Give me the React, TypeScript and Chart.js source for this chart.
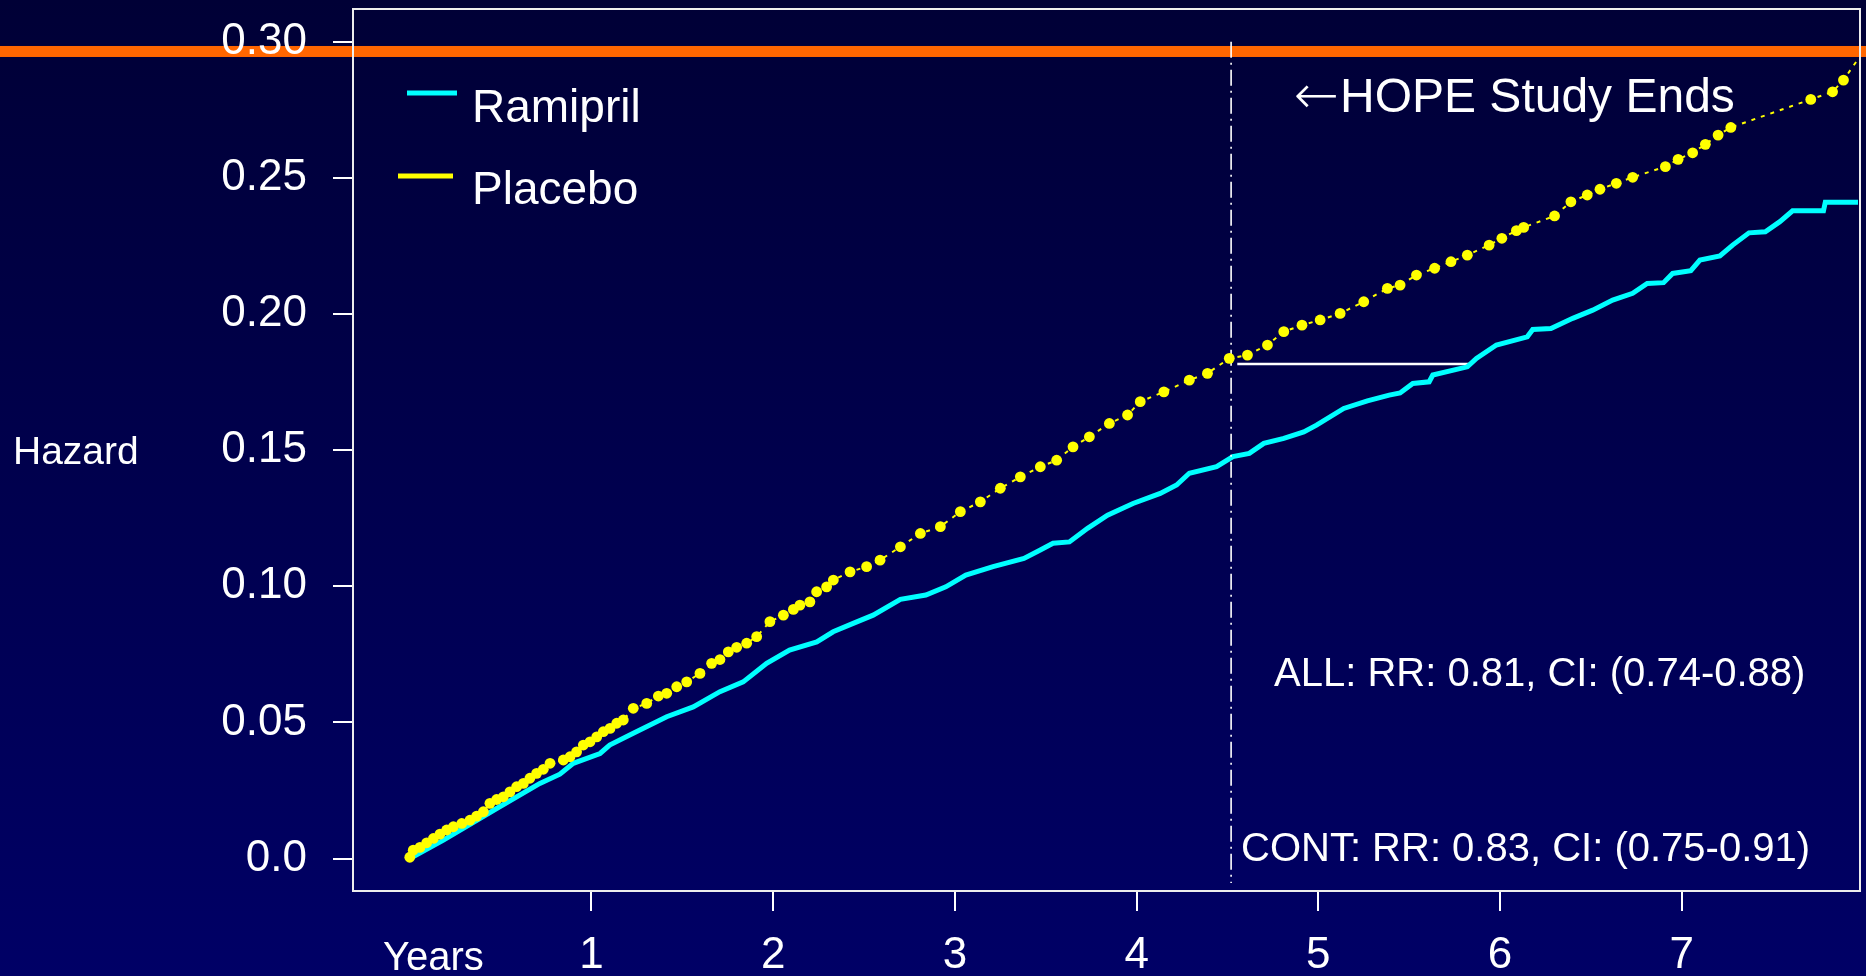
import React, { useEffect, useRef } from 'react';
import { Chart, registerables } from 'chart.js';

Chart.register(...registerables);

const FONT = '"Liberation Sans", Arial, Helvetica, sans-serif';

// Axis ticks
const xTickValues = [1, 2, 3, 4, 5, 6, 7];
const xTickLabels = ['1', '2', '3', '4', '5', '6', '7'];
const yTickValues = [0, 0.05, 0.1, 0.15, 0.2, 0.25, 0.3];
const yTickLabels = ['0.0', '0.05', '0.10', '0.15', '0.20', '0.25', '0.30'];

// Placebo cumulative hazard (years, hazard)
const placeboYears = [
  0, 0.019, 0.056, 0.093, 0.13, 0.166, 0.203, 0.24, 0.286, 0.331, 0.368, 0.405, 0.441, 0.478, 0.515,
  0.551, 0.588, 0.625, 0.661, 0.698, 0.735, 0.772, 0.845, 0.882, 0.918, 0.955, 0.992, 1.029, 1.065,
  1.102, 1.139, 1.175, 1.23, 1.304, 1.368, 1.414, 1.469, 1.524, 1.597, 1.661, 1.707, 1.753, 1.799,
  1.854, 1.909, 1.982, 2.056, 2.111, 2.147, 2.202, 2.239, 2.294, 2.331, 2.423, 2.514, 2.588,
  2.7, 2.81, 2.92, 3.03, 3.14, 3.25, 3.36, 3.47, 3.56, 3.65, 3.74, 3.85, 3.95, 4.02, 4.15, 4.29,
  4.39, 4.51, 4.61, 4.72, 4.81, 4.91, 5.01, 5.12, 5.25, 5.38,
  5.45, 5.54, 5.64, 5.73, 5.82, 5.94, 6.01, 6.09, 6.13, 6.3, 6.39, 6.48, 6.55, 6.64, 6.73, 6.91,
  6.98, 7.06, 7.13, 7.2, 7.27, 7.71, 7.83, 7.89, 7.96,
];
const placeboHazard = [
  0.0005, 0.0031, 0.0041, 0.0058, 0.0074, 0.009, 0.0105, 0.0117, 0.0129, 0.0141, 0.0156, 0.0172,
  0.0203, 0.0217, 0.0227, 0.0245, 0.0264, 0.0276, 0.0295, 0.0313, 0.0328, 0.035, 0.0362, 0.0374,
  0.0392, 0.0417, 0.0429, 0.0447, 0.0466, 0.0478, 0.0497, 0.0509, 0.0552, 0.057, 0.0597, 0.0607,
  0.0631, 0.0649, 0.068, 0.0717, 0.0731, 0.0759, 0.0776, 0.0791, 0.0815, 0.087, 0.0894, 0.0915,
  0.0931, 0.0943, 0.098, 0.0998, 0.1023, 0.1053, 0.1072, 0.1096,
  0.1145, 0.1194, 0.1219, 0.1274, 0.131, 0.136, 0.1402, 0.1439, 0.1463, 0.1512, 0.1549, 0.1598,
  0.1629, 0.1678, 0.1714, 0.1757, 0.1782, 0.1837, 0.1849, 0.1886, 0.1935, 0.1959, 0.1978, 0.2002,
  0.2045, 0.2094,
  0.2106, 0.2143, 0.2168, 0.2192, 0.2216, 0.2253, 0.2278, 0.2306, 0.2318, 0.236, 0.2412, 0.2437,
  0.2458, 0.248, 0.2502, 0.2541, 0.2568, 0.2592, 0.2623, 0.2657, 0.2685, 0.2788, 0.2816, 0.2859,
  0.2926,
];

// Ramipril cumulative hazard (years, hazard)
const ramiprilYears = [
  0, 0.185, 0.478, 0.716, 0.826, 0.9, 1.047, 1.1, 1.23, 1.414, 1.56, 1.707, 1.835, 1.964, 2.09,
  2.24, 2.33, 2.44, 2.55, 2.7, 2.84, 2.95, 3.06, 3.21, 3.38, 3.47, 3.54, 3.63, 3.73, 3.84, 3.98,
  4.13, 4.22, 4.29, 4.44, 4.53, 4.62, 4.7, 4.81, 4.92, 4.99, 5.14, 5.27, 5.39, 5.45, 5.52, 5.61,
  5.63, 5.82, 5.87, 5.98, 6.15, 6.18, 6.28, 6.4, 6.51, 6.62, 6.73, 6.81, 6.9, 6.95, 7.05, 7.1,
  7.21, 7.28, 7.37, 7.46, 7.54, 7.61, 7.78, 7.79, 7.97,
];
const ramiprilHazard = [
  0, 0.0068, 0.0184, 0.0276, 0.031, 0.035, 0.0386, 0.0417, 0.046, 0.0521, 0.0557, 0.0613, 0.0649,
  0.0717, 0.0766, 0.0796, 0.0833, 0.0864, 0.0894, 0.0952, 0.0968, 0.0998, 0.1041, 0.1072, 0.1102,
  0.1133, 0.1158, 0.1163, 0.1213, 0.1261, 0.1304, 0.1341, 0.1372, 0.1415, 0.1439, 0.1476, 0.1488,
  0.1525, 0.1543, 0.1567, 0.1592, 0.1653, 0.1681, 0.1702, 0.171, 0.1745, 0.1751, 0.1776, 0.1806,
  0.1837, 0.1886, 0.1916, 0.1943, 0.1947, 0.1984, 0.2014, 0.2051, 0.2076, 0.2112, 0.2115, 0.2149,
  0.2159, 0.2198, 0.2213, 0.2253, 0.2298, 0.2302, 0.2339, 0.2379, 0.2379, 0.241, 0.241,
];

// Reference lines
const studyEndYears = [4.52, 4.52];
const studyEndHazard = [0.3, -0.009];
const delayYears = [4.554, 5.844];
const delayHazard = [0.1816, 0.1816];
const orangeLevel = 0.2964;

const seriesNames = ['Ramipril', 'Placebo'];
const annotationTexts = ['HOPE Study Ends', 'ALL: RR: 0.81, CI: (0.74-0.88)', 'CONT: RR: 0.83, CI: (0.75-0.91)'];
const axisTitles = ['Hazard', 'Years'];

const toPoints = (xs: number[], ys: number[]) => xs.map((x, i) => ({ x, y: ys[i] }));

export default function App() {
  const ref = useRef<HTMLCanvasElement>(null);

  useEffect(() => {
    document.body.style.margin = '0';
    document.body.style.background = '#00004c';
    document.body.style.overflow = 'hidden';
    const canvas = ref.current!;

    const decoPlugin = {
      id: 'deco',
      beforeDraw(chart: any) {
        const { ctx, width, height } = chart;
        ctx.save();
        const g = ctx.createLinearGradient(0, 0, 0, height);
        g.addColorStop(0, '#000036');
        g.addColorStop(1, '#000066');
        ctx.fillStyle = g;
        ctx.fillRect(0, 0, width, height);
        const yy = chart.scales.y.getPixelForValue(orangeLevel);
        ctx.fillStyle = '#FF6600';
        ctx.fillRect(0, yy - 5.5, width, 11);
        ctx.restore();
      },
      beforeDatasetsDraw(chart: any) {
        const { ctx, chartArea: a } = chart;
        ctx.save();
        ctx.strokeStyle = '#EDEDED';
        ctx.lineWidth = 2;
        ctx.strokeRect(a.left, a.top, a.right - a.left, a.bottom - a.top);
        ctx.restore();
      },
      afterDraw(chart: any) {
        const { ctx } = chart;
        ctx.save();
        ctx.fillStyle = '#FFFFFF';
        ctx.textBaseline = 'alphabetic';
        ctx.textAlign = 'left';

        // legend
        ctx.lineCap = 'butt';
        ctx.strokeStyle = '#00FFFF';
        ctx.lineWidth = 5;
        ctx.beginPath();
        ctx.moveTo(407, 93);
        ctx.lineTo(457, 93);
        ctx.stroke();
        ctx.strokeStyle = '#FFFF00';
        ctx.lineWidth = 5;
        ctx.beginPath();
        ctx.moveTo(398, 176);
        ctx.lineTo(453, 176);
        ctx.stroke();
        ctx.font = `46px ${FONT}`;
        ctx.fillText(seriesNames[0], 472, 122);
        ctx.fillText(seriesNames[1], 472, 204);

        // axis titles
        ctx.font = `39px ${FONT}`;
        ctx.fillText(axisTitles[0], 13, 464);
        ctx.font = `40px ${FONT}`;
        ctx.fillText(axisTitles[1], 383, 970);

        // study end label
        ctx.font = `200 54px "DejaVu Sans", sans-serif`;
        const arrowW = ctx.measureText('\u2190').width;
        ctx.fillText('\u2190', 1339 - arrowW, 113);
        ctx.font = `48px ${FONT}`;
        ctx.fillText(annotationTexts[0], 1340, 112);

        // RR texts
        ctx.font = `40px ${FONT}`;
        ctx.fillText(annotationTexts[1], 1274, 686);
        ctx.fillText(annotationTexts[2], 1241, 861);
        ctx.restore();
      },
    };

    const lastPlacebo = placeboYears.length - 1;

    const chart = new Chart(canvas, {
      type: 'line',
      data: {
        datasets: [
          {
            label: 'Placebo',
            data: toPoints(placeboYears, placeboHazard),
            borderColor: '#FFFF00',
            backgroundColor: '#FFFF00',
            borderWidth: 2,
            borderDash: [4, 6],
            pointRadius: (c: any) => (c.dataIndex === lastPlacebo ? 0 : 5.4),
            pointBorderWidth: 0,
            pointBackgroundColor: '#FFFF00',
            tension: 0,
          },
          {
            label: 'StudyEnd',
            data: toPoints(studyEndYears, studyEndHazard),
            borderColor: '#FFFFFF',
            borderWidth: 1.6,
            borderDash: [16, 5, 2, 5],
            pointRadius: 0,
          },
          {
            label: 'Ramipril',
            data: toPoints(ramiprilYears, ramiprilHazard),
            borderColor: '#00FFFF',
            backgroundColor: '#00FFFF',
            borderWidth: 5,
            pointRadius: 0,
            tension: 0,
          },
          {
            label: 'Delay',
            data: toPoints(delayYears, delayHazard),
            borderColor: '#FFFFFF',
            borderWidth: 2.5,
            pointRadius: 0,
          },
        ],
      },
      options: {
        responsive: false,
        animation: false,
        devicePixelRatio: 1,
        layout: { padding: { top: 9, right: 6, left: 0, bottom: 0 } },
        plugins: { legend: { display: false }, tooltip: { enabled: false }, title: { display: false } },
        events: [],
        scales: {
          x: {
            type: 'linear',
            min: -0.3125,
            max: 7.981,
            afterBuildTicks: (s: any) => {
              s.ticks = xTickValues.map((v) => ({ value: v }));
            },
            afterFit: (s: any) => {
              s.height = 85;
              s.paddingLeft = 0;
              s.paddingRight = 0;
            },
            ticks: {
              color: '#FFFFFF',
              font: { family: FONT, size: 44, lineHeight: 1.2 },
              padding: 18,
              maxRotation: 0,
              autoSkip: false,
              callback: (_v: any, i: number) => xTickLabels[i],
            },
            grid: { display: true, drawOnChartArea: false, drawTicks: true, tickLength: 20, color: '#FFFFFF', lineWidth: 2 },
            border: { display: false },
          },
          y: {
            type: 'linear',
            min: -0.0119,
            max: 0.312,
            afterBuildTicks: (s: any) => {
              s.ticks = yTickValues.map((v) => ({ value: v }));
            },
            afterFit: (s: any) => {
              s.width = 353;
              s.paddingTop = 0;
              s.paddingBottom = 0;
            },
            ticks: {
              color: '#FFFFFF',
              font: { family: FONT, size: 44, lineHeight: 1.2 },
              padding: 26,
              autoSkip: false,
              callback: (_v: any, i: number) => yTickLabels[i],
            },
            grid: { display: true, drawOnChartArea: false, drawTicks: true, tickLength: 20, color: '#FFFFFF', lineWidth: 2 },
            border: { display: false },
          },
        },
      },
      plugins: [decoPlugin],
    } as any);

    return () => chart.destroy();
  }, []);

  return <canvas ref={ref} width={1866} height={976} style={{ display: 'block', width: 1866, height: 976 }} />;
}
